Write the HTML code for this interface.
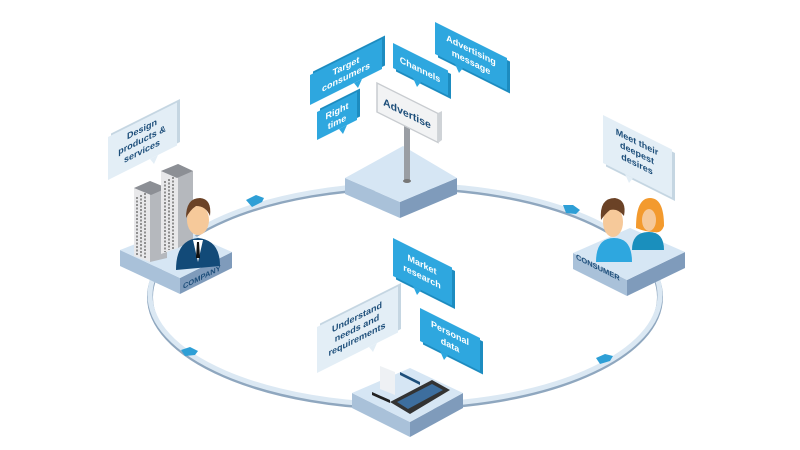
<!DOCTYPE html>
<html><head><meta charset="utf-8"><style>
html,body{margin:0;padding:0;background:#fff;}
svg{display:block;font-family:"Liberation Sans",sans-serif;font-weight:bold;}
</style></head><body>
<svg width="800" height="450" viewBox="0 0 800 450" xmlns="http://www.w3.org/2000/svg">
<!-- ring -->
<ellipse cx="405" cy="297" rx="255" ry="110" fill="none" stroke="#8fa7bf" stroke-width="6"/>
<ellipse cx="405" cy="295" rx="255" ry="110" fill="none" stroke="#dbe8f3" stroke-width="5"/>

<!-- arrows -->
<g fill="#2e9fd6">
<path d="M246,200 l10,-5 l8,3 l-2,4 l-10,5 z"/>
<path d="M563,205 l10,0 l7,5 l-4,4 l-10,-1 z"/>
<path d="M181,350 l9,-3 l8,4 l-3,4 l-10,1 z"/>
<path d="M596,358 l9,-4 l8,2 l-3,5 l-10,3 z"/>
</g>

<!-- top platform -->
<polygon points="345,178 400,202 400,218 345,194" fill="#a9c1d9"/>
<polygon points="400,202 457,178 457,194 400,218" fill="#7f9bbb"/>
<polygon points="345,178 403,146 457,178 400,202" fill="#d6e6f4"/>
<!-- pole -->
<rect x="404" y="120" width="6" height="62" fill="#9a9ea4"/>
<ellipse cx="407" cy="181" rx="4" ry="2" fill="#777"/>
<!-- billboard -->
<g transform="matrix(1,0.5,0,1,377,83)">
<rect x="0" y="0" width="61" height="29" fill="#f2f3f4" stroke="#c8ccd0" stroke-width="1.5"/>
<text x="30" y="19" font-size="10.5" fill="#1d4e7a" text-anchor="middle">Advertise</text>
</g>
<polygon points="438,113 442,111 442,140 438,143" fill="#cfd3d7"/>

<!-- blue bubbles -->
<g fill="#2ea7df">
<g transform="matrix(1,-0.5,0,1,310,75)">
<rect x="3" y="-2" width="72" height="30" fill="#1d8cc0"/>
<rect x="0" y="0" width="72" height="30"/>
<polygon points="44,30 52,30 48,37"/>
<text x="36" y="12" font-size="9" fill="#fff" text-anchor="middle">Target</text>
<text x="36" y="23" font-size="9" fill="#fff" text-anchor="middle">consumers</text>
</g>
<g transform="matrix(1,-0.5,0,1,317,112)">
<rect x="3" y="-2" width="40" height="28" fill="#1d8cc0"/>
<rect x="0" y="0" width="40" height="28"/>
<polygon points="22,28 30,28 26,35"/>
<text x="20" y="12" font-size="9" fill="#fff" text-anchor="middle">Right</text>
<text x="20" y="23" font-size="9" fill="#fff" text-anchor="middle">time</text>
</g>
<g transform="matrix(1,0.5,0,1,393,43)">
<rect x="3" y="2" width="55" height="25" fill="#1d8cc0"/>
<rect x="0" y="0" width="55" height="25"/>
<polygon points="20,25 28,25 24,32"/>
<text x="27" y="16" font-size="9" fill="#fff" text-anchor="middle">Channels</text>
</g>
<g transform="matrix(1,0.5,0,1,435,22)">
<rect x="3" y="2" width="72" height="32" fill="#1d8cc0"/>
<rect x="0" y="0" width="72" height="32"/>
<polygon points="20,32 28,32 24,39"/>
<text x="36" y="13" font-size="9" fill="#fff" text-anchor="middle">Advertising</text>
<text x="36" y="25" font-size="9" fill="#fff" text-anchor="middle">message</text>
</g>
<g transform="matrix(1,0.5,0,1,393,238)">
<rect x="3" y="2" width="59" height="38" fill="#1d8cc0"/>
<rect x="0" y="0" width="59" height="38"/>
<polygon points="20,38 28,38 24,45"/>
<text x="29" y="15" font-size="9" fill="#fff" text-anchor="middle">Market</text>
<text x="29" y="27" font-size="9" fill="#fff" text-anchor="middle">research</text>
</g>
<g transform="matrix(1,0.5,0,1,420,308)">
<rect x="3" y="2" width="60" height="33" fill="#1d8cc0"/>
<rect x="0" y="0" width="60" height="33"/>
<polygon points="20,33 28,33 24,40"/>
<text x="30" y="13" font-size="9" fill="#fff" text-anchor="middle">Personal</text>
<text x="30" y="25" font-size="9" fill="#fff" text-anchor="middle">data</text>
</g>
</g>

<!-- light bubbles -->
<g fill="#e3eef6">
<g transform="matrix(1,-0.5,0,1,108,137)">
<rect x="3" y="-2" width="69" height="43" fill="#c5d6e2"/>
<rect x="0" y="0" width="69" height="43"/>
<polygon points="42,43 50,43 46,50"/>
<text x="34" y="12" font-size="9" fill="#1d4e7a" text-anchor="middle">Design</text>
<text x="34" y="23" font-size="9" fill="#1d4e7a" text-anchor="middle">products &amp;</text>
<text x="34" y="34" font-size="9" fill="#1d4e7a" text-anchor="middle">services</text>
</g>
<g transform="matrix(1,0.5,0,1,603,115)">
<rect x="3" y="2" width="69" height="48" fill="#c5d6e2"/>
<rect x="0" y="0" width="69" height="48"/>
<polygon points="22,48 30,48 26,55"/>
<text x="34" y="13" font-size="9" fill="#1d4e7a" text-anchor="middle">Meet their</text>
<text x="34" y="24" font-size="9" fill="#1d4e7a" text-anchor="middle">deepest</text>
<text x="34" y="35" font-size="9" fill="#1d4e7a" text-anchor="middle">desires</text>
</g>
<g transform="matrix(1,-0.5,0,1,317,327)">
<rect x="3" y="-2" width="81" height="46" fill="#c5d6e2"/>
<rect x="0" y="0" width="81" height="46"/>
<polygon points="52,46 60,46 56,53"/>
<text x="40" y="13" font-size="9" fill="#1d4e7a" text-anchor="middle">Understand</text>
<text x="40" y="24" font-size="9" fill="#1d4e7a" text-anchor="middle">needs and</text>
<text x="40" y="35" font-size="9" fill="#1d4e7a" text-anchor="middle">requirements</text>
</g>
</g>

<!-- company platform -->
<polygon points="120,250 180,278 180,294 120,266" fill="#a9c1d9"/>
<polygon points="180,278 232,252 232,268 180,294" fill="#7f9bbb"/>
<polygon points="120,250 177,228 232,252 180,278" fill="#d6e6f4"/>
<text transform="matrix(1,-0.5,0,1,183,289)" font-size="7.5" fill="#1d4e7a">COMPANY</text>
<!-- buildings -->
<polygon points="134,188 150,181 150,262 134,256" fill="#e8e8ea"/>
<polygon points="150,181 167,188 167,258 150,262" fill="#b5b8bd"/>
<polygon points="134,188 150,181 167,188 151,195" fill="#8c8f95"/>
<polygon points="161,171 178,164 178,248 161,254" fill="#e8e8ea"/>
<polygon points="178,164 193,171 193,240 178,248" fill="#b5b8bd"/>
<polygon points="161,171 178,164 193,171 177,178" fill="#8c8f95"/>
<g stroke="#555" stroke-width="1.2" stroke-dasharray="2,1.5">
<line x1="137" y1="197" x2="137" y2="255"/><line x1="141" y1="195" x2="141" y2="257"/><line x1="145" y1="193" x2="145" y2="259"/>
<line x1="165" y1="181" x2="165" y2="252"/><line x1="169" y1="179" x2="169" y2="250"/><line x1="173" y1="177" x2="173" y2="249"/>
</g>
<!-- man -->
<path d="M176,270 q0,-30 22,-32 q22,2 22,28 z" fill="#124a78"/>
<polygon points="193,240 203,240 198,262" fill="#fff"/>
<polygon points="197,242 199,242 200,258 196,258" fill="#111"/>
<ellipse cx="198" cy="220" rx="11" ry="15" fill="#f6c99a"/>
<path d="M186,218 q0,-20 14,-20 q12,1 10,18 q-4,-10 -14,-10 q-6,4 -10,12z" fill="#6b4226"/>

<!-- consumer platform -->
<polygon points="573,253 627,280 627,296 573,269" fill="#a9c1d9"/>
<polygon points="627,280 685,252 685,268 627,296" fill="#7f9bbb"/>
<polygon points="573,253 630,228 685,252 627,280" fill="#d6e6f4"/>
<text transform="matrix(1,0.5,0,1,576,259)" font-size="7.5" fill="#1d4e7a">CONSUMER</text>
<path d="M632,250 q0,-18 17,-18 q15,0 15,18 z" fill="#1a8fbd"/>
<path d="M636,228 q0,-30 14,-30 q14,0 14,28 q-3,8 -10,6 q-8,0 -18,-4z" fill="#f39a2e"/>
<ellipse cx="649" cy="220" rx="7" ry="11" fill="#f6c99a"/>
<path d="M596,262 q0,-24 18,-24 q18,0 18,24 z" fill="#2ea7df"/>
<ellipse cx="613" cy="222" rx="10" ry="15" fill="#f6c99a"/>
<path d="M601,220 q-2,-22 14,-22 q12,2 9,18 q-6,-8 -14,-6 q-5,4 -9,10z" fill="#6b4226"/>

<!-- bottom platform -->
<polygon points="352,393 410,422 410,437 352,408" fill="#a9c1d9"/>
<polygon points="410,422 463,393 463,408 410,437" fill="#7f9bbb"/>
<polygon points="352,393 410,368 463,393 410,422" fill="#d6e6f4"/>
<polygon points="380,366 395,372 395,395 380,389" fill="#eef1f4"/>
<polygon points="400,372 420,382 420,385 400,375" fill="#1d4e7a"/>
<polygon points="372,392 390,400 390,403 372,395" fill="#222"/>
<polygon points="390,402 432,380 450,390 410,414" fill="#333"/>
<polygon points="397,402 432,384 443,390 408,409" fill="#3d6e9e"/>
</svg>
</body></html>
